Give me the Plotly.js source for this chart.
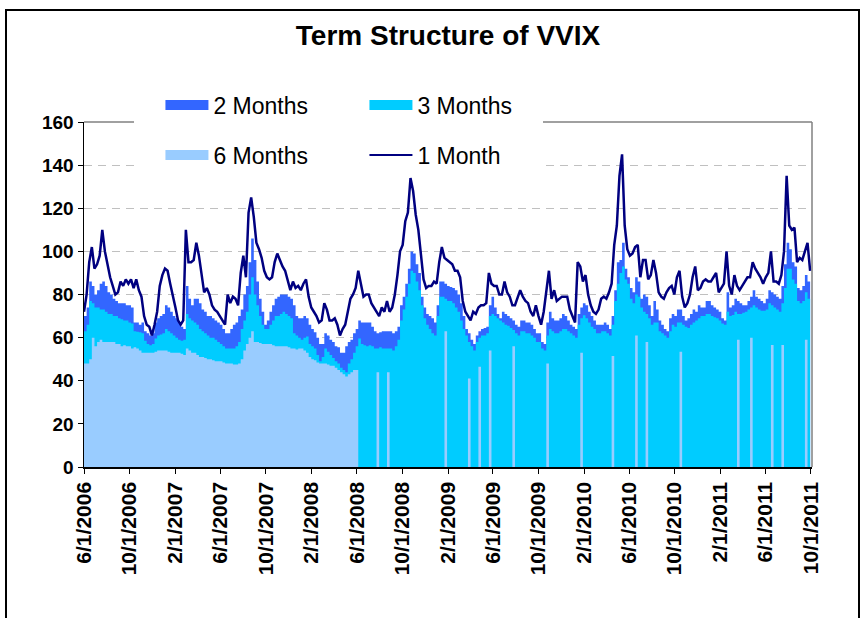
<!DOCTYPE html>
<html><head><meta charset="utf-8">
<script src="https://cdn.plot.ly/plotly-3.0.1.min.js"></script>
<style>
html,body{margin:0;padding:0;background:#fff;}
#wrap{position:relative;width:864px;height:618px;overflow:hidden;}
#frame{position:absolute;left:5px;top:9px;width:851px;height:640px;border:2px solid #000;pointer-events:none;}
</style>
</head><body>
<div id="wrap"><div id="chart" style="width:864px;height:618px"></div><div id="frame"></div></div>
<script>
// weekly observations starting 2006-06-01
const startDate = [2006, 5, 1];
const oneMonth = [
72,80,95,102,92,94,98,110,100,93,
88,84,80,81,86,84,87,85,87,83,
87,82,79,70,66,65,61,66,72,84,
89,92,91,85,80,74,68,66,68,110,
95,95,96,104,98,89,81,83,80,75,
73,72,70,68,66,80,76,79,78,75,
90,98,88,118,125,116,104,101,97,91,
88,87,88,95,99,96,93,91,87,82,
86,83,84,82,85,87,79,74,72,70,
67,68,76,73,68,68,69,66,61,64,
66,72,78,80,83,91,84,79,80,80,
76,74,72,70,74,72,77,72,74,80,
89,100,103,114,118,134,128,117,110,97,
87,83,84,84,86,85,95,102,97,96,
95,94,91,91,88,77,72,70,68,72,
71,74,75,75,76,90,85,84,84,80,
80,86,81,79,75,75,79,82,79,77,
76,72,70,75,70,66,72,83,91,78,
82,77,78,79,79,79,73,70,67,95,
93,86,89,80,75,72,71,73,78,79,
78,81,85,103,112,135,145,112,101,98,
99,102,103,88,96,96,87,89,96,90,
81,79,78,81,83,84,80,88,91,79,
74,76,80,88,93,82,83,86,87,86,
86,88,90,81,83,85,100,84,80,89,
84,82,84,86,88,88,95,92,90,88,
85,88,90,100,86,86,85,89,100,135,
112,110,111,95,97,96,100,104,91
];
const twoMonths = [
70,74,86,84,80,82,85,86,84,81,
80,78,77,76,76,76,75,75,74,67,
67,66,67,63,62,61,62,67,69,70,
71,75,74,72,70,69,67,65,64,84,
78,75,78,78,76,73,72,70,70,69,
68,67,66,64,62,62,64,66,67,70,
73,80,84,95,106,96,86,78,72,66,
68,72,75,78,79,80,80,80,79,78,
75,70,69,69,70,69,66,64,62.5,60,
57,57,62,61,59,58,56,55.5,53,53,
56,58,59,62,64,68,67,67,67,67,
65,63,62,62.5,63,63,63,63,62,63,
65,75,79,85,92,100,99,94,90,79,
74,71,70,69,67,75,86,86,85,84,
83.5,83,82,80,76,70,64,62,59,57,
61,63,64,64.5,65,75,79,74,71,69,
72,71,70,69,68,66,65,68,68,67,
67,66,64,62,62,58,57,67,72,69,
68,68,69,71,70,68,66,65,64,71,
74,76,75,72,70,68,66,66,66,67,
66,64,70,82,95,96,104,92,88,83,
81,88,86,78,80,79,75,70,77,73,
68,66,64,63,69,71,70,73,73,70,
68,69,71,73,72,75,74,74,77,77,
75,74,73,72,69,68,81,74,75,78,
77,76,75,75,77,79,82,79,78,77,
76,78,82,81,80,79,78,84,94,104,
101,95,93,83,82,84,89,86,81
];
const threeMonths = [
63,66,77,76,74,74,73,73,72,71,
71,70,70,69,68.5,68,68,67,66.5,63,
62.7,62.5,62,58.5,57,56.5,57,59.6,61,61.5,
62,64,63,62,61,60,59,58.5,59,71,
69,68,67,66,64,63,62,61,60,60,
59,58,57,56,55,55,55,55,56,58,
64,68,72,80,88,80,75,70,66,64,
64,66,68,70,70,71,72,71,70,69,
62,61,60,59,60,60.5,57,56,55,52,
49,51,55,53.5,52,50.5,49,48,46,45,
44,48,50,53,56,59.6,57,56.5,56,56.5,
56,55,55,55.5,55,55,55,55,54,56,
59,68,73,79,85,91,90,86,82,75,
69,66,64,62,61,70,79,79,78,77,
77,76,74,72,68,64,61,58,56,54,
58,60,61,61,62,70,71,70,69,68,
67,66,65.5,64.5,63.5,62,61,63,63,62,
62,61,60,58,58,55,54,61,64,63,
62,62,63,64,64,63,62,61,60,66,
69,70.4,69,67,65,64,62,62,63,63,
62,61,66,77,85,90,93,87,85,78,
76,80,79,74,72,71,69,66,67,67,
63,62,61,60,63,66,65,67,67,66,
65,64.5,66,67,68,69,70,70,71,71,
70,69.5,69,68,66.5,66,72,70,70.5,72,
71,71,71.5,72,73,74,75,74,73,72.5,
72.5,73,76,75,74,73,72,76,83,92,
92,87,85,77,76,77,81,78,76
];
const sixMonths = [
48,48,50,60,56,58,59,58,58,58,
58,58,57,57,56,56.5,56,56,55,55.5,
55,54,53,53,53,53,53,53.5,54,54,
54,54,53.5,53,53,53,53,52.5,52,55,
54,53,53,52,51,51,50.5,50,50,49.5,
49,49,49,48.5,48,48,48,47.5,47.5,48,
50,54,57,60,63,58,58,57.5,57,57,
57,57,56.5,56,56,56,56,56,55.5,55,
55,54.5,55,55,54,53,51,50,49.5,48.5,
48,48,48,47.5,47,47,46,45,44,43,
42,43,44,45,45,0,0,0,0,0,
0,0,44,0,0,0,44,0,0,0,
0,0,0,0,0,0,0,0,0,0,
0,0,0,0,0,0,0,0,63,0,
0,0,0,0,0,0,0,41,0,0,
0,46.5,0,0,0,54,0,0,0,0,
0,0,0,0,56,0,0,0,0,0,
0,0,0,0,0,0,0,48,0,0,
0,0,0,0,0,0,0,0,0,0,
53,0,0,0,0,0,0,0,0,0,
0,0,51.5,0,0,0,0,0,0,0,
0,61,0,0,0,58,0,0,0,0,
0,0,0,0,0,0,0,0,53.5,0,
0,0,0,0,0,0,0,0,0,0,
0,0,0,0,0,0,0,0,0,0,
59,0,0,0,0,60,0,0,0,0,
0,0,0,56.6,0,0,0,56.6,0,0,
0,0,0,0,0,0,59,0,0
];
const seriesNames = ['2 Months', '3 Months', '6 Months', '1 Month'];
const seriesColors = ['#3366FF', '#00CCFF', '#99CCFF', '#000080'];
const tickVals = ['2006-06-01','2006-10-01','2007-02-01','2007-06-01','2007-10-01','2008-02-01','2008-06-01','2008-10-01','2009-02-01','2009-06-01','2009-10-01','2010-02-01','2010-06-01','2010-10-01','2011-02-01','2011-06-01','2011-10-01'];
const tickText = ['6/1/2006','10/1/2006','2/1/2007','6/1/2007','10/1/2007','2/1/2008','6/1/2008','10/1/2008','2/1/2009','6/1/2009','10/1/2009','2/1/2010','6/1/2010','10/1/2010','2/1/2011','6/1/2011','10/1/2011'];

const dates = oneMonth.map((_, i) => new Date(Date.UTC(startDate[0], startDate[1], startDate[2]) + i * 7 * 86400000).toISOString().slice(0, 10));

const FONT = 'Liberation Sans, Arial, sans-serif';
const area = (i, y) => ({
  type: 'scatter', mode: 'lines', x: dates, y: y, name: seriesNames[i],
  fill: 'tozeroy', fillcolor: seriesColors[i], line: {color: seriesColors[i], width: 0, shape: 'hv'},
  showlegend: false, hoverinfo: 'skip'
});
// legend entries (large swatches like the original)
const legendEntry = (i, legend, width) => ({
  type: 'scatter', mode: 'lines', x: [null], y: [null], name: seriesNames[i],
  line: {color: seriesColors[i], width: width}, legend: legend, hoverinfo: 'skip'
});
const traces = [
  area(0, twoMonths),
  area(1, threeMonths),
  area(2, sixMonths),
  {type: 'scatter', mode: 'lines', x: dates, y: oneMonth, name: seriesNames[3],
   line: {color: seriesColors[3], width: 2.5}, showlegend: false, hoverinfo: 'skip'},
  legendEntry(0, 'legend', 15),
  legendEntry(1, 'legend', 15),
  legendEntry(2, 'legend2', 15),
  legendEntry(3, 'legend2', 2)
];
const legendBase = {orientation: 'h', xanchor: 'left', yanchor: 'middle', x: 0.105,
  bgcolor: 'rgba(0,0,0,0)', font: {family: FONT, size: 23, color: '#000'},
  entrywidth: 146, itemwidth: 43, traceorder: 'normal'};
const layout = {
  width: 864, height: 618,
  margin: {l: 84, r: 52, t: 122, b: 151},
  paper_bgcolor: '#fff', plot_bgcolor: '#fff',
  showlegend: true,
  title: {text: 'Term Structure of VVIX', x: 0.5, xref: 'paper', xanchor: 'center',
          y: 0.943, yref: 'container', yanchor: 'middle',
          font: {family: FONT, size: 28, color: '#000', weight: 'bold'}},
  xaxis: {type: 'date', range: ['2006-06-01', '2011-10-04'], tickmode: 'array',
          tickvals: tickVals, ticktext: tickText, tickangle: -90,
          ticks: 'outside', ticklen: 5, tickcolor: '#000', tickwidth: 1,
          showline: true, linecolor: '#000', linewidth: 1.5, showgrid: false, zeroline: false,
          tickfont: {family: FONT, size: 21, color: '#000', weight: 'bold'}},
  yaxis: {range: [0, 160], dtick: 20, tick0: 0, ticks: 'outside', ticklen: 5, tickcolor: '#000',
          showline: true, linecolor: '#000', linewidth: 1.5, zeroline: false,
          showgrid: true, gridcolor: '#C0C0C0', griddash: '8px,6px', gridwidth: 1,
          tickfont: {family: FONT, size: 19, color: '#000', weight: 'bold'}},
  legend: Object.assign({}, legendBase, {y: 1.049}),
  legend2: Object.assign({}, legendBase, {y: 0.904}),
  shapes: [
    {type: 'line', xref: 'paper', yref: 'paper', x0: 0, x1: 1, y0: 1, y1: 1, line: {color: '#808080', width: 1.5}, layer: 'above'},
    {type: 'line', xref: 'paper', yref: 'paper', x0: 1, x1: 1, y0: 0, y1: 1, line: {color: '#808080', width: 1.5}, layer: 'above'},
    {type: 'rect', xref: 'paper', yref: 'paper', x0: 0.0687, x1: 0.6305, y0: 0.861, y1: 1.107, fillcolor: '#fff', line: {width: 0}, layer: 'above'}
  ]
};
Plotly.newPlot('chart', traces, layout, {staticPlot: true, displayModeBar: false});
</script>
</body></html>
